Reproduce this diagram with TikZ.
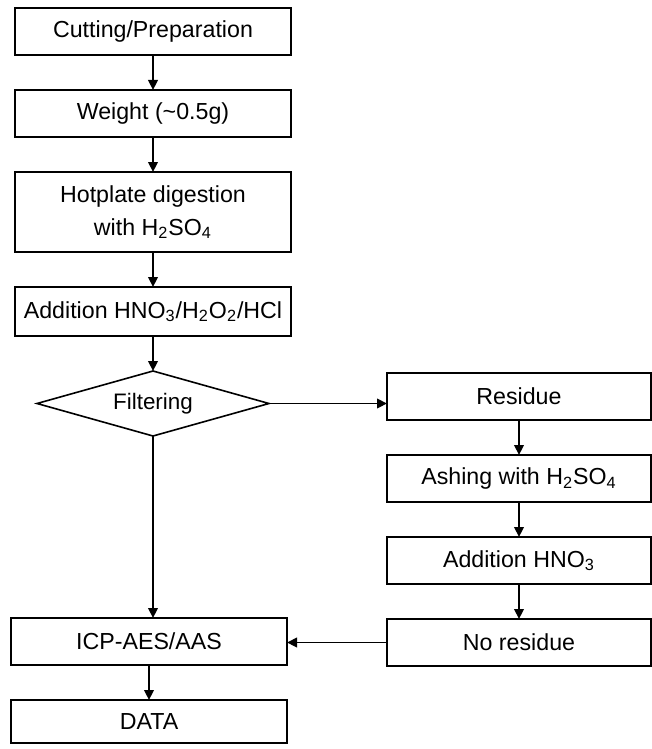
\documentclass[tikz,border=0pt]{standalone}
\usepackage{fontspec}
\setmainfont{Liberation Sans}
\usepackage{tikz}
\usetikzlibrary{arrows.meta,shapes.geometric,positioning}
\tikzset{
    stepbox/.style={rectangle, draw=black, line width=0.9pt, outer sep=0pt, minimum width=138pt, minimum height=23.5pt, align=center, font=\fontsize{11.6}{16.5}\selectfont},
    sidebox/.style={stepbox, minimum width=132pt},
    arrow/.style={-{Triangle[length=5pt,width=4.8pt]}, line width=0.9pt}
}

\begin{document}
\begin{tikzpicture}[
    node distance=17.5pt,
    check/.style={diamond, draw=black, line width=0.8pt, outer sep=0pt, aspect=3.5, inner sep=0pt, minimum width=116pt, minimum height=32.5pt, font=\fontsize{11.2}{13}\selectfont}
]
\useasboundingbox (0,0) rectangle (326pt,-374.5pt);

% Main column
\node[stepbox] (cut) at (76.5pt,-15.75pt) {Cutting/Preparation};
\node[stepbox, below=of cut] (weigh) {Weight (\textasciitilde0.5g)};
\node[stepbox, below=of weigh, minimum height=40pt] (digest) {Hotplate digestion\\with H\textsubscript{2}SO\textsubscript{4}};
\node[stepbox, below=of digest, minimum height=24.5pt] (addacid) {Addition HNO\textsubscript{3}/H\textsubscript{2}O\textsubscript{2}/HCl};
\node[check, below=of addacid] (filt) {Filtering};
\node[stepbox, below=91pt of filt, xshift=-2pt] (icp) {ICP-AES/AAS};
\node[stepbox, below=of icp, minimum height=21.5pt] (data) {DATA};

% Residue branch
\node[sidebox, right=59pt of filt, yshift=3.5pt] (resid) {Residue};
\node[sidebox, below=of resid] (ashing) {Ashing with H\textsubscript{2}SO\textsubscript{4}};
\node[sidebox, below=of ashing] (addnitric) {Addition HNO\textsubscript{3}};
\node[sidebox, below=of addnitric] (nores) {No residue};

% Arrows
\draw[arrow] (cut) -- (weigh);
\draw[arrow] (weigh) -- (digest);
\draw[arrow] (digest) -- (addacid);
\draw[arrow] (addacid) -- (filt);
\draw[arrow] (filt.east) -- (filt.east -| resid.west);
\draw[arrow] (filt.south) -- (filt.south |- icp.north);
\draw[arrow] (resid) -- (ashing);
\draw[arrow] (ashing) -- (addnitric);
\draw[arrow] (addnitric) -- (nores);
\draw[arrow] (nores.west) -- (nores.west -| icp.east);
\draw[arrow] (icp) -- (data);

\end{tikzpicture}
\end{document}
